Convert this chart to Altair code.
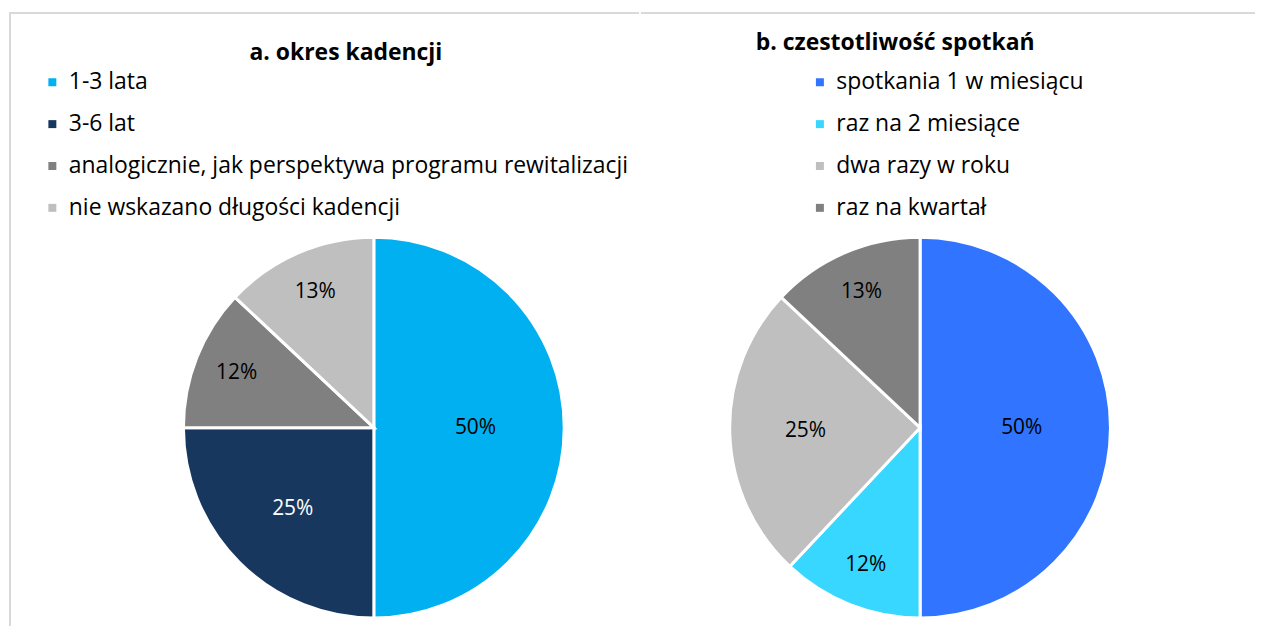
import altair as alt
import pandas as pd

# Panel a: okres kadencji
cats_a = ["1-3 lata", "3-6 lat", "analogicznie, jak perspektywa programu rewitalizacji", "nie wskazano długości kadencji"]
vals_a = [50, 25, 12, 13]
colors_a = ["#00B0F0", "#17375E", "#808080", "#BFBFBF"]
title_a = "a. okres kadencji"

# Panel b: częstotliwość spotkań
cats_b = ["spotkania 1 w miesiącu", "raz na 2 miesiące", "dwa razy w roku", "raz na kwartał"]
vals_b = [50, 12, 25, 13]
colors_b = ["#3074FF", "#38D7FF", "#BFBFBF", "#808080"]
title_b = "b. czestotliwość spotkań"

FONT = "Open Sans"
BORDER = "#D9D9D9"


def make_panel(cats, vals, colors, title, w, h, cx, cy, lx, ly, tdx, toff, white_cat=None, left_border=False):
    df = pd.DataFrame({"cat": cats, "v": vals, "i": list(range(len(cats)))})
    base = alt.Chart(df).transform_calculate(lab="datum.v + '%'")
    arcs = base.mark_arc(outerRadius=191, stroke="white", strokeWidth=3).encode(
        theta=alt.Theta("v:Q", stack=True),
        order=alt.Order("i:Q", sort="ascending"),
        color=alt.Color(
            "cat:N",
            scale=alt.Scale(domain=cats, range=colors),
            sort=cats,
            legend=alt.Legend(
                title=None, orient="none", legendX=lx, legendY=ly,
                symbolType="square", symbolSize=64, symbolStrokeWidth=0,
                labelFont=FONT, labelFontSize=23, labelColor="#000000",
                rowPadding=18, labelOffset=5, labelLimit=800,
            ),
        ),
        x=alt.value(cx),
        y=alt.value(cy),
    )
    if white_cat is not None:
        tcolor = alt.condition(alt.datum.cat == white_cat, alt.value("white"), alt.value("black"))
    else:
        tcolor = alt.value("black")
    labels = base.mark_text(
        font=FONT, fontSize=21,
        radius=alt.expr("datum.v >= 50 ? 102 : (datum.v >= 25 ? 115 : 148)"),
    ).encode(
        theta=alt.Theta("v:Q", stack=True),
        order=alt.Order("i:Q", sort="ascending"),
        text=alt.Text("lab:N"),
        color=tcolor,
        x=alt.value(cx),
        y=alt.value(cy),
    )
    layers = [arcs, labels]
    top = alt.Chart(df).mark_rule(color=BORDER, strokeWidth=2).encode(
        x=alt.value(0), x2=alt.value(w), y=alt.value(4)
    )
    layers.append(top)
    if left_border:
        left = alt.Chart(df).mark_rule(color=BORDER, strokeWidth=2).encode(
            x=alt.value(1), y=alt.value(4), y2=alt.value(h)
        )
        layers.append(left)
    return alt.layer(*layers).properties(
        width=w, height=h,
        title=alt.TitleParams(
            text=title, anchor="middle", orient="top", dx=tdx, offset=toff,
            font=FONT, fontSize=23, fontWeight="bold", color="#000000",
            baseline="bottom", frame="group",
        ),
    )


pa = make_panel(cats_a, vals_a, colors_a, title_a, 632, 619, 366, 420, 32, 62, 22, -79,
                white_cat="3-6 lat", left_border=True)
pb = make_panel(cats_b, vals_b, colors_b, title_b, 616, 619, 280, 420, 168, 62, -53, -69)

chart = alt.hconcat(pa, pb, spacing=0).resolve_scale(color="independent").properties(
    padding=0
).configure_view(strokeWidth=0)

chart.save("out.html", embed_options={"renderer": "svg", "actions": False})
